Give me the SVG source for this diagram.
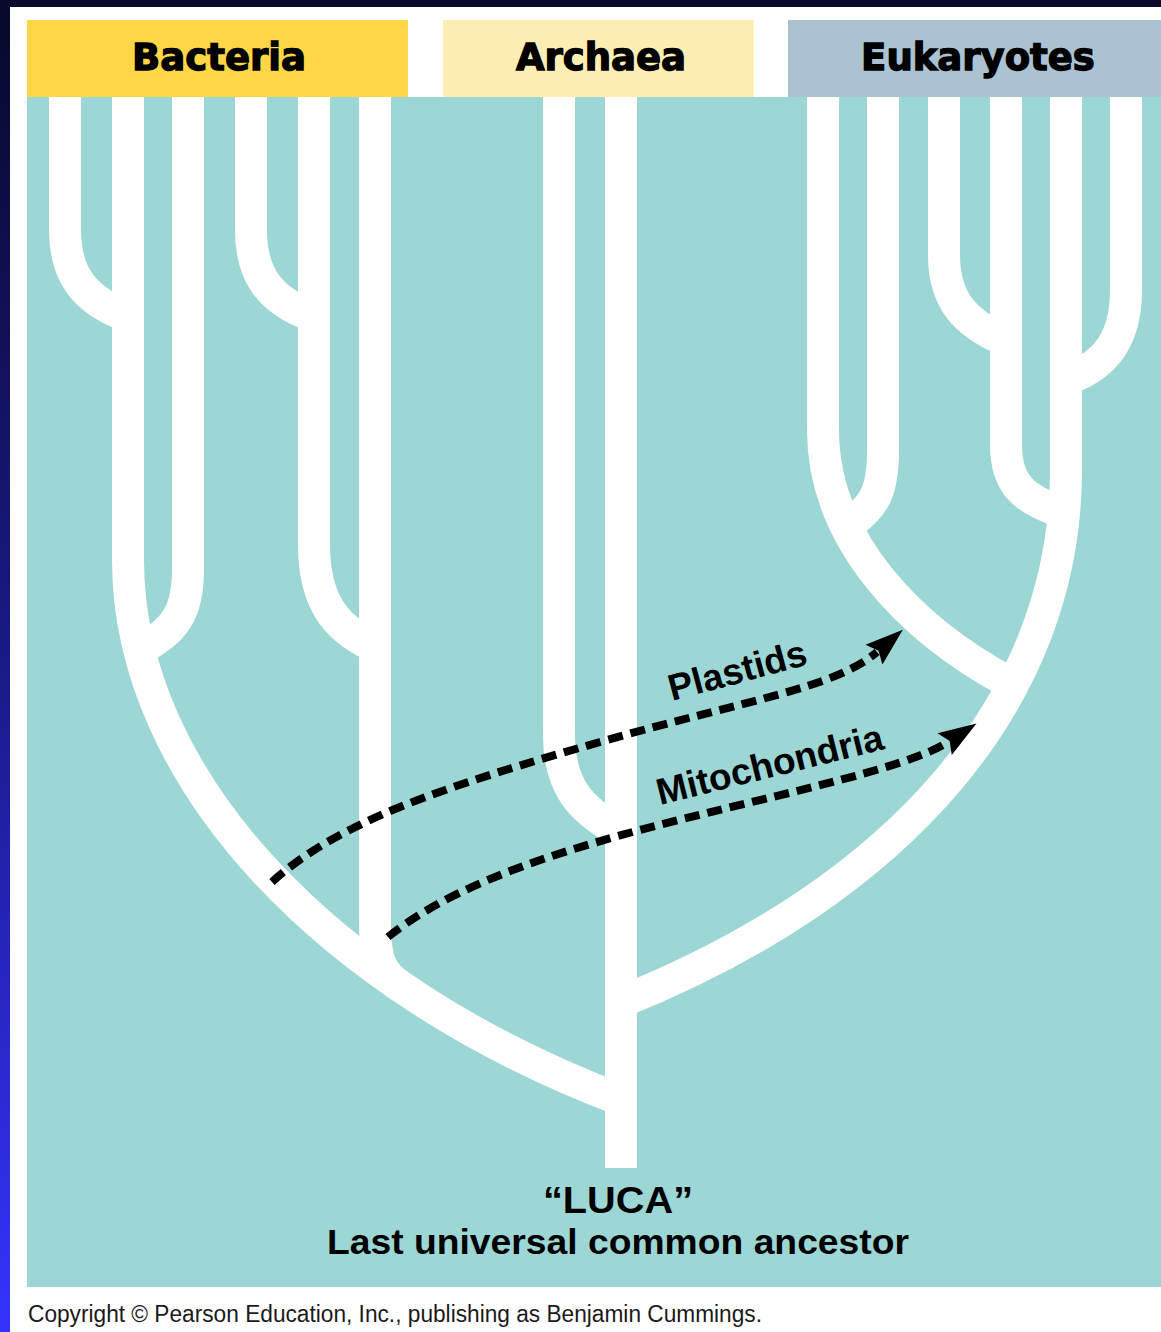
<svg xmlns="http://www.w3.org/2000/svg" width="1161" height="1332" viewBox="0 0 1161 1332">
  <defs>
    <linearGradient id="edge" x1="0" y1="0" x2="0" y2="1">
      <stop offset="0" stop-color="#08082a"/>
      <stop offset="0.5" stop-color="#1a1a88"/>
      <stop offset="1" stop-color="#3434ff"/>
    </linearGradient>
    <marker id="arrow" markerUnits="userSpaceOnUse" viewBox="-2 -16 42 32" markerWidth="42" markerHeight="32" refX="4" refY="0" orient="auto">
      <path d="M0,-13 L38,0 L0,13 L6,0 z" fill="#000" stroke="none"/>
    </marker>
    <style>
      .branch { fill: none; stroke: #ffffff; stroke-width: 32; stroke-linecap: butt; stroke-linejoin: round; }
      .transfer { fill: none; stroke: #000; stroke-width: 8; stroke-dasharray: 15 8; marker-end: url(#arrow); }
      .hdr { font-family: "DejaVu Sans", "Liberation Sans", sans-serif; font-weight: bold; font-size: 37px; fill: #000; stroke: #000; stroke-width: 1.3px; text-anchor: middle; }
      .lbl { font-family: "Liberation Sans", Arial, sans-serif; font-weight: bold; font-size: 37px; fill: #000; }
    </style>
  </defs>

  <!-- page background -->
  <rect x="0" y="0" width="1161" height="1332" fill="#ffffff"/>
  <rect x="0" y="0" width="1161" height="7" fill="#0a0a2a"/>
  <rect x="0" y="0" width="10" height="1332" fill="url(#edge)"/>

  <!-- teal panel -->
  <rect x="27" y="97" width="1134" height="1190" fill="#9dd7d5"/>

  <!-- header boxes -->
  <g id="hdr-bacteria">
    <rect x="27" y="20" width="381" height="77" fill="#ffd645"/>
    <text class="hdr" x="219" y="70">Bacteria</text>
  </g>
  <g id="hdr-archaea">
    <rect x="443" y="20" width="311" height="77" fill="#feeeb3"/>
    <text class="hdr" x="601" y="70">Archaea</text>
  </g>
  <g id="hdr-eukaryotes">
    <rect x="788" y="20" width="373" height="77" fill="#aac2d2"/>
    <text class="hdr" x="978" y="70">Eukaryotes</text>
  </g>

  <!-- tree branches -->
  <g id="tree">
    <g id="bacteria-branches">
      <path class="branch" d="M65,97 V230 C65,275 85,300 125,315"/>
      <path class="branch" d="M188,97 V570 C188,612 175,632 138,650"/>
      <path class="branch" d="M128,97 V560 C128,780 330,990 621,1100"/>
      <path class="branch" d="M251,97 V230 C251,275 270,300 310,315"/>
      <path class="branch" d="M314,97 V545 C314,600 335,628 372,645"/>
      <path class="branch" d="M375,97 V920 C375,955 378,972 400,986"/>
    </g>
    <g id="archaea-branches">
      <path class="branch" d="M559,97 V735 C559,785 580,810 618,830"/>
      <path class="branch" d="M621,97 V1168"/>
    </g>
    <g id="eukaryote-branches">
      <path class="branch" d="M823,97 V430 C823,540 910,630 1012,684"/>
      <path class="branch" d="M883,97 V450 C883,490 875,505 853,521"/>
      <path class="branch" d="M944,97 V255 C944,300 965,322 1000,338"/>
      <path class="branch" d="M1006,97 V445 C1006,485 1025,500 1062,512"/>
      <path class="branch" d="M1126,97 V290 C1126,340 1105,365 1070,378"/>
      <path class="branch" d="M1066,97 V470 C1066,700 900,890 621,1002"/>
    </g>
  </g>

  <!-- endosymbiotic transfers -->
  <g id="connectors">
    <path id="plastids-arrow" class="transfer" d="M272,882 C340,820 450,785 600,742 S835,688 877,652"/>
    <path id="mitochondria-arrow" class="transfer" d="M388,937 C440,895 520,862 640,830 S905,770 948,742"/>
  </g>

  <g id="label-plastids">
    <text class="lbl" x="672" y="701" transform="rotate(-15 672 701)">Plastids</text>
  </g>
  <g id="label-mitochondria">
    <text class="lbl" x="660" y="805" transform="rotate(-14 660 805)">Mitochondria</text>
  </g>

  <g id="luca">
    <text x="618" y="1213" text-anchor="middle" textLength="150" lengthAdjust="spacingAndGlyphs" font-family="Liberation Sans, Arial, sans-serif" font-weight="bold" font-size="36" fill="#000">“LUCA”</text>
    <text x="618" y="1254" text-anchor="middle" textLength="582" lengthAdjust="spacingAndGlyphs" font-family="Liberation Sans, Arial, sans-serif" font-weight="bold" font-size="35" fill="#000">Last universal common ancestor</text>
  </g>

  <text x="28" y="1322" textLength="734" lengthAdjust="spacingAndGlyphs" font-family="Liberation Sans, Arial, sans-serif" font-size="23" fill="#1a1a1a">Copyright © Pearson Education, Inc., publishing as Benjamin Cummings.</text>
</svg>
